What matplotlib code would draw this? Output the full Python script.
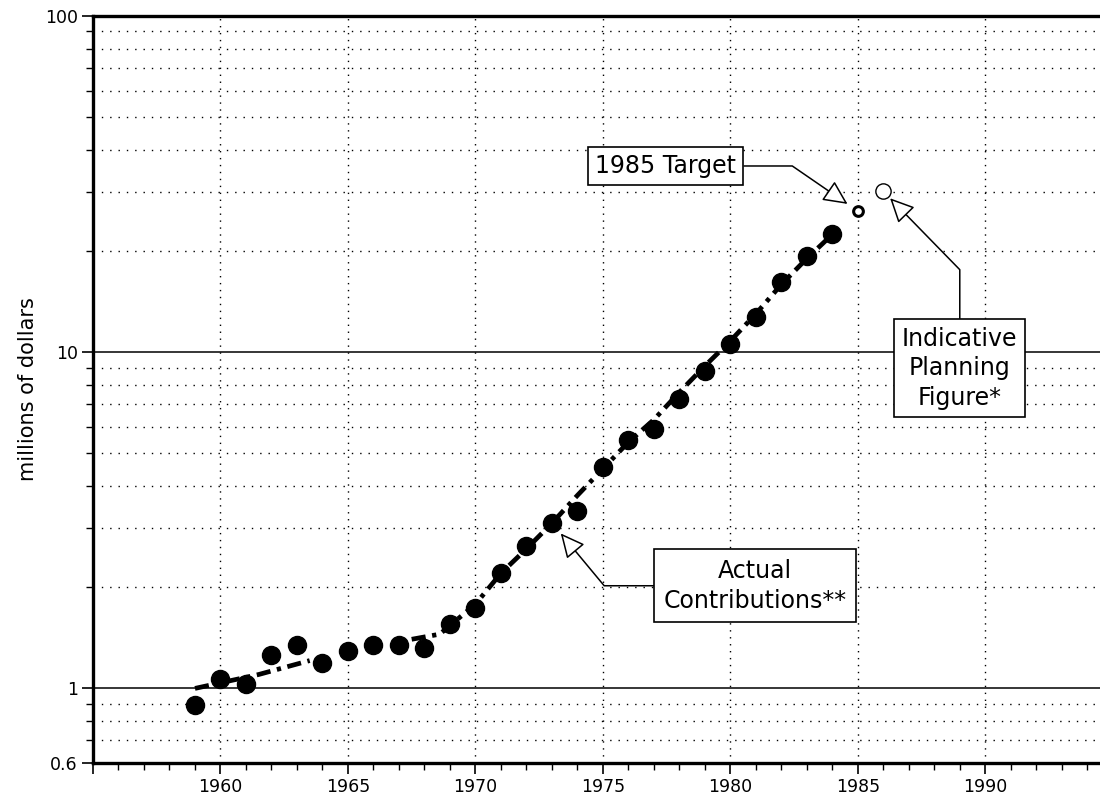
import numpy as np
import matplotlib.pyplot as plt
import matplotlib.ticker as mt

# actual contributions, millions of dollars
years = np.arange(1959, 1985)
contributions = [0.89, 1.07, 1.03, 1.255, 1.345, 1.19, 1.295, 1.35, 1.345, 1.315,
                 1.55, 1.74, 2.21, 2.65, 3.11, 3.37, 4.56, 5.47, 5.90, 7.24,
                 8.80, 10.56, 12.7, 16.2, 19.3, 22.4]

# dash-dot trend drawn behind the dots (gap in the mid sixties)
trend_years = [1959, 1961.5, 1963.5, np.nan, 1967.5, 1968.6, 1970, 1971, 1972, 1973,
               1974, 1975, 1976, 1977, 1978, 1979, 1980, 1981, 1982, 1983, 1984]
trend_values = [1.0, 1.1, 1.21, np.nan, 1.40, 1.45, 1.78, 2.2, 2.6, 3.1,
                3.75, 4.5, 5.4, 6.3, 7.6, 9.1, 10.8, 13.0, 15.9, 19.0, 22.4]

target_year, target_value = 1985, 26.3
planning_year, planning_value = 1986, 30.1

x_major = [1955, 1960, 1965, 1970, 1975, 1980, 1985, 1990]
x_labels = ['', '1960', '1965', '1970', '1975', '1980', '1985', '1990']
y_major = [0.6, 1, 10, 100]
y_labels = ['0.6', '1', '10', '100']
y_minor = [0.7, 0.8, 0.9, 2, 3, 4, 5, 6, 7, 8, 9, 20, 30, 40, 50, 60, 70, 80, 90]


def plot():
    fig = plt.figure(figsize=(11, 7.96), dpi=100)
    ax = fig.add_axes([93 / 1100, 1 - 763 / 796, 1 - 93 / 1100, (763 - 16) / 796])
    ax.set_yscale('log')
    ax.set_xlim(1955, 1994.5)
    ax.set_ylim(0.6, 100)

    ax.xaxis.set_major_locator(mt.FixedLocator(x_major))
    ax.xaxis.set_major_formatter(mt.FixedFormatter(x_labels))
    ax.xaxis.set_minor_locator(mt.MultipleLocator(1))
    ax.yaxis.set_major_locator(mt.FixedLocator(y_major))
    ax.yaxis.set_major_formatter(mt.FixedFormatter(y_labels))
    ax.yaxis.set_minor_locator(mt.FixedLocator(y_minor))
    ax.yaxis.set_minor_formatter(mt.NullFormatter())

    ax.grid(which='major', axis='y', ls='-', lw=1.1, color='black')
    ax.grid(which='minor', axis='y', ls=(0, (1, 5)), lw=1.0, color='black')
    ax.grid(which='major', axis='x', ls=(0, (1, 4)), lw=1.0, color='black')

    ax.tick_params(which='major', length=8, width=1.2, labelsize=12.5, pad=3)
    ax.tick_params(which='minor', length=5, width=1.0)
    for s in ['top', 'left', 'bottom']:
        ax.spines[s].set_linewidth(2.4)
    ax.spines['right'].set_visible(False)

    ax.plot(trend_years, trend_values, color='black', lw=3.4,
            ls=(0, (3, 1.4, 0.9, 1.4)), dash_capstyle='butt', zorder=2)
    ax.plot(years, contributions, 'o', color='black', ms=13, zorder=4)
    ax.plot(target_year, target_value, 'o', mfc='white', mec='black',
            ms=7, mew=2.2, zorder=4)
    ax.plot(planning_year, planning_value, 'o', mfc='white', mec='black',
            ms=11, mew=1.0, zorder=4)

    ax.set_ylabel('millions of dollars', fontsize=15)
    ax.yaxis.set_label_coords(-0.055, 0.5)

    head = '-|>,head_length=0.75,head_width=0.36'
    ax.annotate('1985 Target', xy=(target_year, target_value), xytext=(1977.47, 35.8),
                ha='center', va='center', fontsize=17,
                bbox=dict(boxstyle='square,pad=0.3', fc='white', ec='black', lw=1.2),
                arrowprops=dict(arrowstyle=head, fc='white', ec='black', lw=1.1,
                                mutation_scale=20, shrinkA=0, shrinkB=9,
                                connectionstyle='angle,angleA=0,angleB=145.5,rad=0'),
                zorder=5)
    ax.annotate('Indicative\nPlanning\nFigure*', xy=(planning_year, planning_value),
                xytext=(1989.0, 8.96), ha='center', va='center', fontsize=17,
                linespacing=1.3,
                bbox=dict(boxstyle='square,pad=0.32', fc='white', ec='black', lw=1.2),
                arrowprops=dict(arrowstyle=head, fc='white', ec='black', lw=1.1,
                                mutation_scale=20, shrinkA=0, shrinkB=7,
                                connectionstyle='angle,angleA=90,angleB=-45.7,rad=0'),
                zorder=5)
    ax.annotate('Actual\nContributions**', xy=(1973, contributions[14]),
                xytext=(1980.98, 2.02), ha='center', va='center', fontsize=17,
                linespacing=1.3,
                bbox=dict(boxstyle='square,pad=0.4', fc='white', ec='black', lw=1.2),
                arrowprops=dict(arrowstyle=head, fc='white', ec='black', lw=1.1,
                                mutation_scale=20, shrinkA=0, shrinkB=10,
                                connectionstyle='angle,angleA=0,angleB=-50.3,rad=0'),
                zorder=5)

    fig.savefig('out.png', dpi=100)


if __name__ == '__main__':
    plot()
